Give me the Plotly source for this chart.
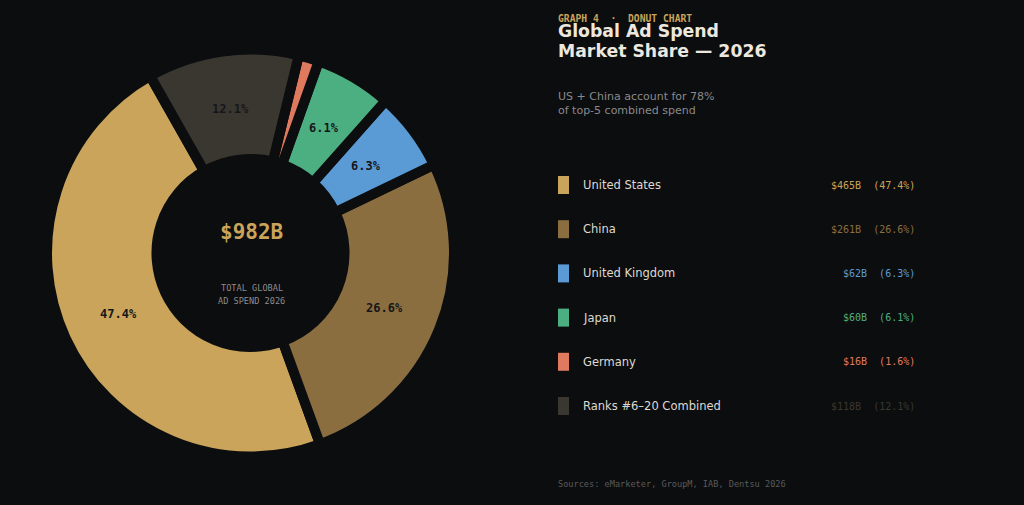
import math
import plotly.graph_objects as go

# ---- data ----
categories = ["United States", "China", "United Kingdom", "Japan", "Germany", "Ranks #6–20 Combined"]
spend_b = [465, 261, 62, 60, 16, 118]
share_pct = [47.4, 26.6, 6.3, 6.1, 1.6, 12.1]
slice_labels = ["47.4%", "26.6%", "6.3%", "6.1%", "", "12.1%"]
colors = ["#c9a45a", "#8a6e40", "#5b9bd5", "#4caf82", "#e07a5f", "#3a3730"]
total_label = "$982B"

BG = "#0c0d0f"
W, H = 1024, 505
ROTATION = 160  # boundary between first and second slice, degrees clockwise from 12 o'clock


def px(x):
    return x / W


def py(y):
    return 1 - y / H


cx, cy, R = 250.5, 253, 203.5
HOLE = 0.462

fig = go.Figure()
fig.add_trace(go.Pie(
    labels=categories,
    values=spend_b,
    textinfo="none",
    marker=dict(colors=colors, line=dict(color=BG, width=10)),
    hole=HOLE,
    sort=False,
    direction="counterclockwise",
    rotation=ROTATION,
    hoverinfo="skip",
    showlegend=False,
    domain=dict(x=[px(cx - R), px(cx + R)], y=[1 - (cy + R) / H, 1 - (cy - R) / H]),
))

ann = []
shapes = []


def text(x, y, s, size, color, family="DejaVu Sans", xanchor="left", bold=False):
    dx = -2 if xanchor == "left" else (2 if xanchor == "right" else 0)
    ann.append(dict(
        x=px(x + dx), y=py(y), xref="paper", yref="paper", text=s, showarrow=False,
        xanchor=xanchor, yanchor="middle", align=xanchor if xanchor != "center" else "center",
        font=dict(family=family, size=size, color=color, weight="bold" if bold else "normal"),
    ))


# slice labels at the mid-ring along each slice's bisector (computed from the data)
total = sum(spend_b)
start = ROTATION + 360 * spend_b[0] / total  # first slice runs counterclockwise from here
r_lab = 145
ang = start
for v, lab in zip(spend_b, slice_labels):
    span = 360 * v / total
    mid = math.radians(ang - span / 2)
    ang -= span
    if lab:
        text(cx + r_lab * math.sin(mid), cy - r_lab * math.cos(mid), lab, 12, "#16161a",
             "DejaVu Sans Mono", "center", True)

# center text
text(cx + 1, 232, total_label, 21, "#c9a45a", "DejaVu Sans Mono", "center", True)
text(cx + 1, 288, "TOTAL GLOBAL", 8.6, "#8c8c8c", "DejaVu Sans Mono", "center")
text(cx + 1, 301, "AD SPEND 2026", 8.6, "#8c8c8c", "DejaVu Sans Mono", "center")

# header
text(558, 18, "GRAPH 4  ·  DONUT CHART", 9.7, "#c9a45a", "DejaVu Sans Mono", bold=True)
text(558, 30.5, "Global Ad Spend", 17.3, "#ece8df", bold=True)
text(558, 51, "Market Share — 2026", 17.3, "#ece8df", bold=True)
text(558, 97, "US + China account for 78%", 11, "#8a8a8a")
text(558, 111, "of top-5 combined spend", 11, "#8a8a8a")

# legend
row_y0, row_gap = 185, 44.2
for i, (name, val, pct, col) in enumerate(zip(categories, spend_b, share_pct, colors)):
    y = row_y0 + i * row_gap
    shapes.append(dict(type="rect", xref="paper", yref="paper",
                       x0=px(558), x1=px(569), y0=py(y - 9), y1=py(y + 9),
                       fillcolor=col, line=dict(width=0)))
    text(583, y, name, 11.5, "#dedad2")
    text(915, y, f"${val}B  ({pct:.1f}%)", 10, col, "DejaVu Sans Mono", "right")

text(558, 484, "Sources: eMarketer, GroupM, IAB, Dentsu 2026", 8.6, "#5a5a5a", "DejaVu Sans Mono")

fig.update_layout(
    width=W, height=H,
    margin=dict(l=0, r=0, t=0, b=0),
    paper_bgcolor=BG, plot_bgcolor=BG,
    annotations=ann, shapes=shapes,
)

fig.write_html("out.html", config={"displayModeBar": False})
